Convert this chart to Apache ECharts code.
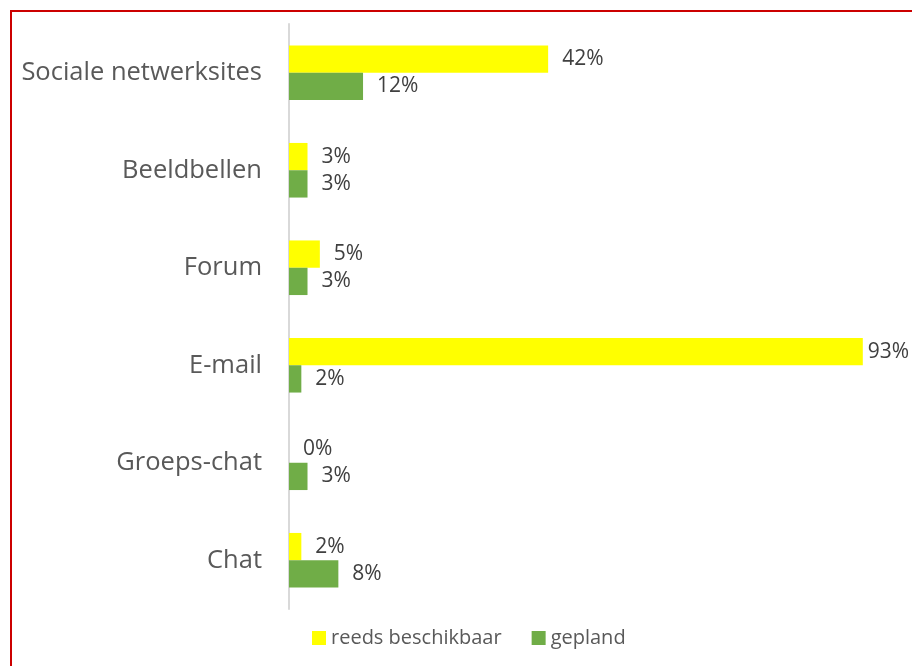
<!DOCTYPE html>
<html>
<head>
<meta charset="utf-8">
<script src="https://cdn.jsdelivr.net/npm/echarts@6/dist/echarts.min.js"></script>
<style>
  html, body { margin: 0; padding: 0; background: #fff; }
  #frame { position: absolute; left: 10px; top: 10px; width: 902px; height: 656px;
           border-left: 2px solid #cc0000; border-top: 2px solid #cc0000; box-sizing: border-box; }
  #chart { position: absolute; left: 0; top: 0; width: 912px; height: 666px; }
</style>
</head>
<body>
<div id="frame"></div>
<div id="chart"></div>
<script>
// Communication channels and share of respondents (%)
const categories = ['Sociale netwerksites', 'Beeldbellen', 'Forum', 'E-mail', 'Groeps-chat', 'Chat'];
const seriesNames = ['reeds beschikbaar', 'gepland'];
const reedsBeschikbaar = [42, 3, 5, 93, 0, 2];
const gepland = [12, 3, 3, 2, 3, 8];

const font = "'Open Sans', 'Noto Sans', sans-serif";
const axisMax = 100;

const chart = echarts.init(document.getElementById('chart'), null, { renderer: 'canvas' });

// Value label to the right of each bar; labels near the plot's right edge sit closer to the bar
function barData(values) {
  return values.map(v => ({
    value: v,
    label: { distance: v > 85 ? 5 : 14 }
  }));
}

const valueLabel = {
  show: true,
  position: 'right',
  formatter: p => p.value + '%',
  color: '#404040',
  fontFamily: font,
  fontSize: 21
};

chart.setOption({
  animation: false,
  backgroundColor: 'transparent',
  grid: { left: 289, right: 6, top: 24, bottom: 57, containLabel: false },
  legend: {
    top: 623,
    left: 307,
    itemWidth: 14,
    itemHeight: 14,
    itemGap: 30,
    icon: 'rect',
    textStyle: { color: '#595959', fontFamily: font, fontSize: 20 },
    data: seriesNames
  },
  xAxis: {
    type: 'value',
    min: 0,
    max: axisMax,
    show: false
  },
  yAxis: {
    type: 'category',
    inverse: true,
    data: categories,
    axisLine: { show: true, lineStyle: { color: '#d9d9d9', width: 2 } },
    axisTick: { show: false },
    axisLabel: { color: '#595959', fontFamily: font, fontSize: 25.5, margin: 27 }
  },
  series: [
    {
      name: seriesNames[0],
      type: 'bar',
      data: barData(reedsBeschikbaar),
      itemStyle: { color: '#ffff00' },
      barGap: '0%',
      barCategoryGap: '44%',
      label: valueLabel
    },
    {
      name: seriesNames[1],
      type: 'bar',
      data: barData(gepland),
      itemStyle: { color: '#70ad47' },
      barGap: '0%',
      barCategoryGap: '44%',
      label: valueLabel
    }
  ]
});
</script>
</body>
</html>
